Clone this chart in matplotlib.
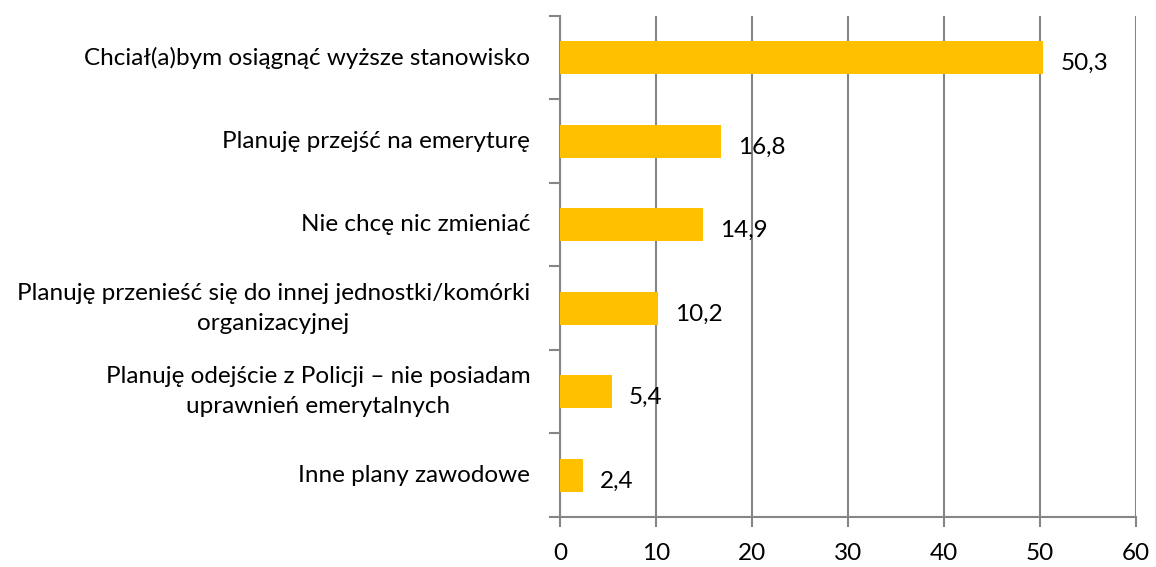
import matplotlib.pyplot as plt
import numpy as np

categories = [
    "Chciał(a)bym osiągnąć wyższe stanowisko",
    "Planuję przejść na emeryturę",
    "Nie chcę nic zmieniać",
    "Planuję przenieść się do innej jednostki/komórki\norganizacyjnej",
    "Planuję odejście z Policji – nie posiadam\nuprawnień emerytalnych",
    "Inne plany zawodowe",
]
values = [50.3, 16.8, 14.9, 10.2, 5.4, 2.4]
x_ticks = [0, 10, 20, 30, 40, 50, 60]

plt.rcParams["font.family"] = ["Lato", "DejaVu Sans"]

fig = plt.figure(figsize=(11.56, 5.67), dpi=100)
ax = fig.add_axes([0.4844, 0.0882, 0.4983, 0.8836])

grid_col = "#868686"
fs = 17.5
y = np.arange(len(categories))
ax.barh(y, values, height=0.4, color="#FFC000", zorder=3)

for yi, v in zip(y, values):
    ax.text(v + 1.8, yi + 0.07, f"{v:.1f}".replace(".", ","), va="center", ha="left",
            fontsize=fs, color="black", zorder=4)

ax.set_xlim(0, 60)
ax.set_ylim(len(categories) - 0.5, -0.5)
ax.set_xticks(x_ticks)
ax.set_xticklabels([str(t) for t in x_ticks], fontsize=fs)
ax.xaxis.grid(True, color=grid_col, linewidth=1.5, zorder=0)

# category boundaries as ticks, labels drawn as text
ax.set_yticks(np.arange(len(categories) + 1) - 0.5)
ax.set_yticklabels([])
for yi, lab in zip(y, categories):
    ax.text(-3.1, yi, lab, ha="right", va="center", multialignment="center",
            fontsize=fs, color="black", linespacing=1.55)

for side in ["top", "right"]:
    ax.spines[side].set_visible(False)
for side in ["left", "bottom"]:
    ax.spines[side].set_color(grid_col)
    ax.spines[side].set_linewidth(1.5)
ax.tick_params(axis="y", length=8, width=1.5, color=grid_col, direction="out")
ax.tick_params(axis="x", length=7, width=1.5, color=grid_col, direction="out", pad=12)

fig.savefig("out.png", dpi=100)
